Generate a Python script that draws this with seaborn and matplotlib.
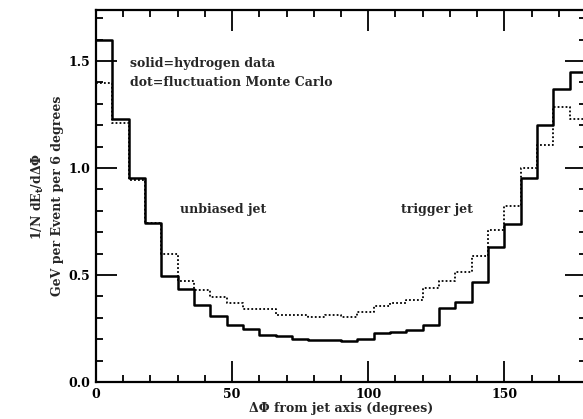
import numpy as np
import pandas as pd
import matplotlib
matplotlib.use("Agg")
import matplotlib.pyplot as plt
import seaborn as sns
from matplotlib.ticker import MultipleLocator

# Data: 6-degree bins from 0 to 180
bin_edges = [0, 6, 12, 18, 24, 30, 36, 42, 48, 54, 60, 66, 72, 78, 84, 90,
             96, 102, 108, 114, 120, 126, 132, 138, 144, 150, 156, 162, 168, 174, 180]
hydrogen_data = [1.598, 1.230, 0.952, 0.744, 0.495, 0.433, 0.358, 0.308, 0.268, 0.248,
                 0.218, 0.215, 0.200, 0.197, 0.197, 0.193, 0.200, 0.230, 0.234, 0.243,
                 0.268, 0.344, 0.375, 0.469, 0.632, 0.737, 0.952, 1.201, 1.368, 1.450]
monte_carlo = [1.396, 1.208, 0.944, 0.744, 0.598, 0.473, 0.430, 0.399, 0.368, 0.340,
               0.340, 0.315, 0.315, 0.306, 0.312, 0.305, 0.329, 0.355, 0.371, 0.383,
               0.438, 0.473, 0.515, 0.589, 0.711, 0.824, 0.998, 1.107, 1.287, 1.230]

centers = [(a + b) / 2 for a, b in zip(bin_edges[:-1], bin_edges[1:])]
df = pd.DataFrame({"dphi": centers, "data": hydrogen_data, "mc": monte_carlo})

sns.set_style("ticks")
plt.rcParams["font.family"] = ["DejaVu Serif"]
plt.rcParams["font.weight"] = "bold"

FS = 9

fig = plt.figure(figsize=(5.83, 4.19), dpi=100)
ax = fig.add_axes([96 / 583, 37 / 419, 490 / 583, 372 / 419])

sns.histplot(data=df, x="dphi", weights="mc", bins=bin_edges, element="step",
             fill=False, color="black", linewidth=1.3, linestyle=(0, (1, 1.2)), ax=ax)
sns.histplot(data=df, x="dphi", weights="data", bins=bin_edges, element="step",
             fill=False, color="black", linewidth=1.8, ax=ax)

ax.set_xlim(0, 180)
ax.set_ylim(0, 1.738)
ax.xaxis.set_major_locator(MultipleLocator(50))
ax.xaxis.set_minor_locator(MultipleLocator(10))
ax.yaxis.set_major_locator(MultipleLocator(0.5))
ax.yaxis.set_minor_locator(MultipleLocator(0.1))
ax.yaxis.set_major_formatter(matplotlib.ticker.FormatStrFormatter("%.1f"))
ax.tick_params(which="both", direction="in", top=True, right=True, width=1.3,
               labelsize=FS, colors="black")
ax.tick_params(which="major", length=15, pad=4)
ax.tick_params(which="minor", length=5)
for lab in ax.get_xticklabels() + ax.get_yticklabels():
    lab.set_fontweight("bold")
for s in ax.spines.values():
    s.set_linewidth(1.6)
    s.set_color("black")

ax.set_xlabel("ΔΦ from jet axis (degrees)", fontsize=FS, fontweight="bold", labelpad=1)
ax.set_ylabel("1/N dE$_\\mathbf{t}$/dΔΦ\nGeV per Event per 6 degrees", fontsize=FS,
              fontweight="bold", labelpad=3, linespacing=1.5)

ax.text(12.5, 1.486, "solid=hydrogen data", fontsize=FS, fontweight="bold", va="center")
ax.text(12.5, 1.397, "dot=fluctuation Monte Carlo", fontsize=FS, fontweight="bold", va="center")
ax.text(31, 0.804, "unbiased jet", fontsize=FS, fontweight="bold", va="center")
ax.text(112, 0.804, "trigger jet", fontsize=FS, fontweight="bold", va="center")

fig.savefig("out.png", dpi=100)
